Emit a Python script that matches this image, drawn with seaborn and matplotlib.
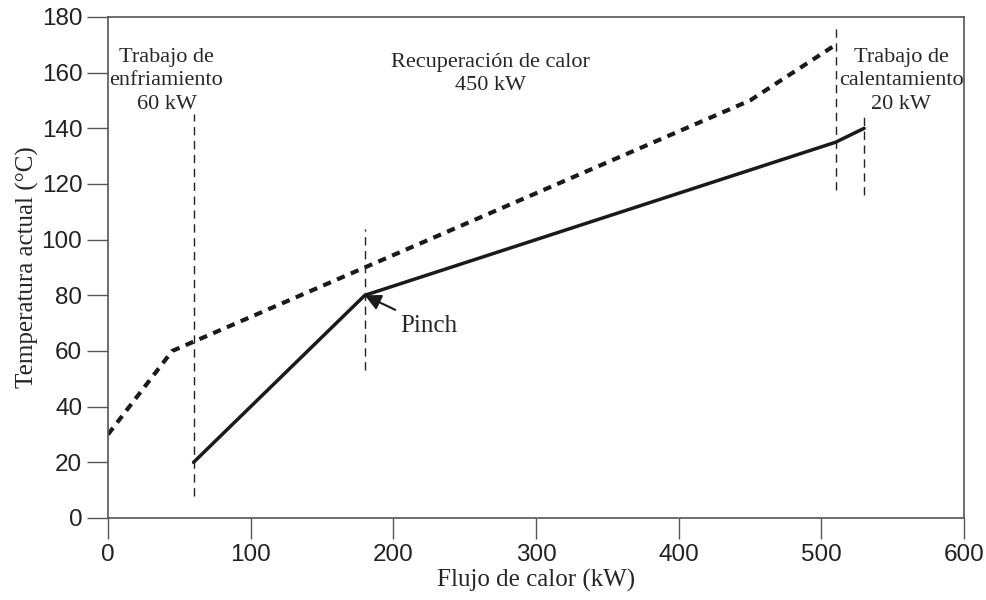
import matplotlib
matplotlib.use('Agg')
import matplotlib.pyplot as plt
import seaborn as sns
import pandas as pd

# composite curves (kW, °C)
hot_q = [0, 45, 450, 510]
hot_t = [30, 60, 150, 170]
cold_q = [60, 180, 510, 530]
cold_t = [20, 80, 135, 140]

# vertical guide lines: x, y_bottom, y_top
guide_x = [60, 180, 510, 530]
guide_lo = [8, 53, 118, 116]
guide_hi = [145, 104, 177, 145]

pinch = (180, 80)

sns.set_style('ticks')
serif = ['Liberation Serif', 'DejaVu Serif']
sans = ['Liberation Sans', 'DejaVu Sans']

fig = plt.figure(figsize=(9.87, 6), dpi=100)
ax = fig.add_axes([0.1094, 0.1367, 0.8673, 0.835])

hot = pd.DataFrame({'q': hot_q, 't': hot_t})
cold = pd.DataFrame({'q': cold_q, 't': cold_t})
sns.lineplot(data=hot, x='q', y='t', ax=ax, color='#1a1a1a', lw=3,
             linestyle=(0, (2.0, 1.6)), sort=False)
sns.lineplot(data=cold, x='q', y='t', ax=ax, color='#1a1a1a', lw=2.5, sort=False)

for x, lo, hi in zip(guide_x, guide_lo, guide_hi):
    ax.vlines(x, lo, hi, colors='#222222', linestyles=(0, (6, 4)), lw=1)

ax.set_xlim(0, 600)
ax.set_ylim(0, 180)
ax.set_xticks(range(0, 601, 100))
ax.set_yticks(range(0, 181, 20))
ax.tick_params(length=15, width=1, color='#555555', labelsize=17.5, labelcolor='#222222')
for lbl in ax.get_xticklabels() + ax.get_yticklabels():
    lbl.set_family(sans)
for s in ax.spines.values():
    s.set_color('#555555')
    s.set_linewidth(1.2)

ax.set_xlabel('Flujo de calor (kW)', family=serif, fontsize=18, labelpad=2)
ax.set_ylabel('Temperatura actual (°C)', family=serif, fontsize=18, labelpad=2)

txt = dict(family=serif, fontsize=16, ha='center', va='top', linespacing=1.3)
ax.text(41, 168.8, 'Trabajo de\nenfriamiento\n60 kW', **txt)
ax.text(268, 167, 'Recuperación de calor\n450 kW', **txt)
ax.text(556, 168.8, 'Trabajo de\ncalentamiento\n20 kW', **txt)

ax.annotate('Pinch', xy=pinch, xytext=(205, 69), family=serif, fontsize=18,
            ha='left', va='center',
            arrowprops=dict(arrowstyle='-|>', color='#1a1a1a', lw=1.5,
                            mutation_scale=24, shrinkA=3, shrinkB=0))

fig.savefig('out.png', dpi=100)
